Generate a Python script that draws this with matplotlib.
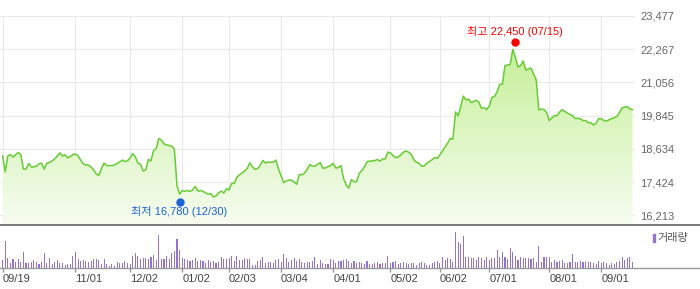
import numpy as np
import matplotlib
matplotlib.use("Agg")
import matplotlib.pyplot as plt
from matplotlib.lines import Line2D
from matplotlib.patches import Rectangle
from matplotlib.transforms import offset_copy

plt.rcParams['font.family'] = ['Liberation Sans', 'Noto Sans CJK KR', 'DejaVu Sans']

# daily closing price (trading-day index 0..242)
price = [
    18380, 17800, 18380, 18430, 18340, 18420, 18510, 18420, 17900, 17900,
    18110, 17980, 17980, 18010, 18090, 18120, 17900, 18120, 18140, 18200,
    18270, 18380, 18490, 18380, 18420, 18310, 18360, 18430, 18450, 18380,
    18230, 18090, 18050, 18050, 17980, 17870, 17720, 17670, 17920, 18120,
    18030, 18030, 18030, 18050, 18110, 18160, 18230, 18180, 18200, 18310,
    18470, 18340, 18120, 18080, 17830, 17870, 18250, 18200, 18580, 18650,
    19020, 18960, 18820, 18780, 18760, 18740, 18620, 17290, 16990, 17120,
    17090, 17120, 17090, 17140, 17270, 17100, 17120, 17090, 17030, 16990,
    17010, 16890, 16920, 17030, 17100, 17030, 17190, 17140, 17380, 17380,
    17600, 17690, 17760, 17830, 17930, 18130, 17980, 17890, 17920, 18050,
    18220, 18120, 18160, 18150, 18150, 18230, 17900, 17650, 17410, 17470,
    17500, 17500, 17430, 17350, 17710, 17690, 17760, 17890, 18070, 18010,
    18010, 18070, 18140, 17940, 17940, 17990, 18030, 18110, 17940, 17960,
    18030, 17560, 17320, 17210, 17520, 17440, 17440, 17740, 17850, 17980,
    18170, 18190, 18200, 18210, 18250, 18190, 18270, 18270, 18520, 18490,
    18400, 18320, 18340, 18420, 18520, 18560, 18520, 18430, 18240, 18150,
    18110, 18010, 18010, 18120, 18180, 18240, 18320, 18290, 18420, 18560,
    18710, 18850, 19020, 18990, 19980, 19840, 20180, 20560, 20420, 20450,
    20330, 20360, 20410, 20330, 20110, 20140, 20070, 20200, 20510, 20550,
    20720, 20990, 20990, 21670, 21690, 21710, 22260, 21980, 21620, 21670,
    21840, 21510, 21550, 21580, 21360, 21150, 20050, 20090, 20070, 19960,
    19670, 19760, 19850, 19850, 19980, 20070, 20000, 19940, 19890, 19850,
    19740, 19750, 19730, 19670, 19670, 19590, 19590, 19510, 19570, 19740,
    19740, 19670, 19650, 19700, 19740, 19770, 19820, 19960, 20130, 20160,
    20180, 20090, 20070,
]

# daily volume (relative units)
volume = [
    83, 273, 103, 53, 93, 63, 93, 63, 163, 53,
    53, 63, 83, 63, 43, 63, 153, 53, 103, 43,
    63, 83, 53, 53, 33, 43, 43, 123, 163, 93,
    73, 83, 73, 63, 73, 93, 93, 83, 43, 93,
    43, 23, 43, 23, 63, 53, 53, 73, 53, 43,
    123, 153, 123, 93, 103, 103, 93, 113, 133, 83,
    333, 93, 93, 123, 93, 153, 173, 293, 183, 103,
    93, 83, 73, 83, 103, 73, 83, 73, 53, 83,
    63, 73, 53, 63,
    113, 87, 87, 100, 123, 67, 123, 83, 77, 103,
    93, 87, 33, 33, 67, 77, 113, 50, 57, 63,
    47, 77, 87, 57, 143, 97, 57, 77, 103, 73,
    87, 60, 53, 57, 63, 70, 113, 43, 77, 53,
    43, 43, 93, 83, 53, 70, 67, 80, 93, 73,
    53, 73, 50, 63, 53, 43, 73, 43, 43, 53,
    63, 43, 53, 53, 123, 53, 63, 73, 43, 53,
    63, 53, 43, 47, 53, 33, 53, 63, 47, 33,
    33, 53, 63, 73, 53, 113, 83, 103, 93, 63,
    363, 263, 243, 323, 113, 113, 103, 103, 83, 113,
    103, 83, 113, 83, 103, 103, 183, 113, 163, 113,
    93, 203, 163, 123, 83, 113, 103, 103, 103, 93,
    103, 63, 223, 63, 113, 113, 113, 63, 83, 63,
    73, 83, 53, 53, 63, 143, 63, 63, 73, 63,
    63, 63, 63, 53, 43, 73, 53, 63, 53, 33,
    53, 43, 63, 73, 113, 83, 103, 113, 63,
]

tick_idx = [0, 28, 49, 69, 87, 107, 127, 149, 168, 187, 210, 230]
tick_labels = ["09/19", "11/01", "12/02", "01/02", "02/03", "03/04",
               "04/01", "05/02", "06/02", "07/01", "08/01", "09/01"]
price_ticks = [16213, 17424, 18634, 19845, 21056, 22267, 23477]

high_idx, high_val, high_text = 197, 22450, "최고 22,450 (07/15)"
low_idx, low_val, low_text = 68, 16780, "최저 16,780 (12/30)"

x = np.arange(len(price))
W, H = 700, 289
fig = plt.figure(figsize=(W / 100, H / 100), dpi=100)

ax_l, ax_r = 0, 635.1
ax = fig.add_axes([ax_l / W, (H - 225) / H, (ax_r - ax_l) / W, 209 / H])
axv = fig.add_axes([ax_l / W, (H - 268) / H, (ax_r - ax_l) / W, 43 / H])

ymin, ymax = 15865, 23477
ax.set_xlim(-1, len(price))
ax.set_ylim(ymin, ymax)

# gradient fill under the price line
poly = ax.fill_between(x, price, ymin, color="none", lw=0)
top_c = np.array([190, 237, 138]) / 255
bot_c = np.array([246, 252, 240]) / 255
t = np.linspace(0, 1, 256)[:, None]
grad = (bot_c * (1 - t) + top_c * t).reshape(256, 1, 3)
im = ax.imshow(grad, extent=[-1, len(price), ymin, ymax], origin="lower",
               aspect="auto", zorder=1)
im.set_clip_path(poly.get_paths()[0], transform=ax.transData)

ax.plot(x, price, color="#66cc33", lw=1.1, zorder=3)

# high / low markers
shift_up = offset_copy(ax.transData, fig=fig, y=2.5, units="dots")
shift_dn = offset_copy(ax.transData, fig=fig, y=-2.5, units="dots")
ax.plot([high_idx], [high_val], "o", color="#ff0000", ms=5, zorder=4,
        transform=shift_up, clip_on=False)
ax.plot([low_idx], [low_val], "o", color="#1a62d6", ms=5, zorder=4,
        transform=shift_dn, clip_on=False)
ax.annotate(high_text, (high_idx, high_val), xytext=(0, 13),
            textcoords="offset pixels", ha="center", va="center",
            color="#ff0000", fontsize=8, zorder=5)
ax.annotate(low_text, (low_idx, low_val), xytext=(0, -12),
            textcoords="offset pixels", ha="center", va="center",
            color="#1a62d6", fontsize=8, zorder=5)

ax.set_xticks(tick_idx)
ax.set_xticklabels([])
ax.set_yticks(price_ticks)
ax.set_yticklabels([f"{v:,}" for v in price_ticks])
ax.yaxis.tick_right()
ax.tick_params(axis="both", length=0)
ax.tick_params(axis="y", pad=3.6, labelsize=8, labelcolor="#666666")
ax.grid(True, color="#e9e9e9", lw=0.8, zorder=0)
ax.set_axisbelow(True)
for s in ax.spines.values():
    s.set_visible(False)

# volume panel
axv.bar(x, volume, width=0.42, color="#9274cc", zorder=2, antialiased=False)
axv.set_xlim(-1, len(price))
axv.set_ylim(0, 430)
axv.set_yticks([])
axv.set_xticks(tick_idx)
axv.set_xticklabels(tick_labels, ha="left")
axv.tick_params(axis="x", length=3, width=1, color="#999999", pad=1.5,
                labelsize=8, labelcolor="#444444")
for s in axv.spines.values():
    s.set_visible(False)

# separator and baseline
fig.add_artist(Line2D([0, 1], [(H - 225) / H] * 2, transform=fig.transFigure,
                      color="#7a7a7a", lw=1.4))
fig.add_artist(Line2D([0, 1], [(H - 268) / H] * 2, transform=fig.transFigure,
                      color="#999999", lw=1.0))

# volume legend
fig.add_artist(Rectangle((652.7 / W, (H - 241.7) / H), 2.6 / W, 7.4 / H,
                         transform=fig.transFigure, color="#9274cc"))
fig.text(657.5 / W, (H - 238) / H, "거래량", fontsize=8, color="#555555",
         va="center", ha="left")

fig.savefig("out.png", dpi=100)
